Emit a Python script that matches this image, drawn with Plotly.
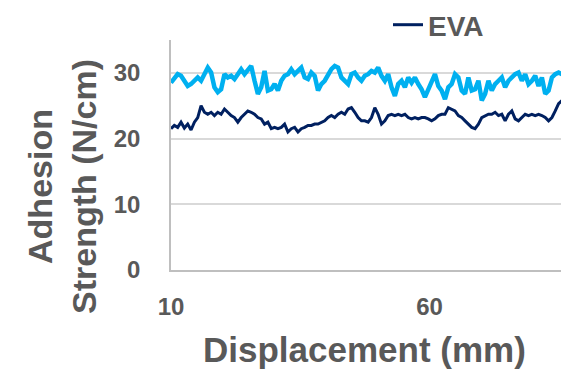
import plotly.graph_objects as go

# Adhesion strength (N/cm) sampled along displacement, step ~0.646 mm from 10 mm
eva = [21.5,22.0,21.7,22.5,21.6,22.2,21.3,22.5,23.2,25.0,
       24.0,23.7,24.0,23.5,24.0,23.7,24.5,24.0,23.5,23.2,
       22.5,23.2,23.7,24.2,24.0,23.7,23.2,23.0,22.2,22.5,
       21.5,21.7,21.5,21.7,22.2,21.0,21.5,21.7,21.0,21.5,
       21.7,22.0,22.0,22.2,22.2,22.5,22.7,23.2,23.5,23.2,
       23.7,24.0,23.7,24.5,24.7,24.0,23.2,22.7,22.7,22.5,
       23.2,24.7,23.7,22.2,22.7,23.5,23.7,23.5,23.7,23.5,
       23.7,23.2,23.0,23.2,23.0,23.2,23.2,23.0,22.7,23.0,
       23.5,23.7,23.7,24.7,24.5,24.2,23.5,23.2,22.7,22.2,
       21.7,21.5,22.2,23.2,23.5,23.7,23.7,24.0,23.5,23.7,
       22.7,23.7,24.2,23.0,22.7,23.2,23.7,23.5,23.7,23.5,
       23.7,23.5,23.2,22.7,23.2,24.2,25.3,25.8]

other = [28.5,29.3,29.8,29.55,28.8,28.0,28.3,28.8,29.3,28.8,
         29.8,30.8,30.05,27.8,27.05,27.5,29.8,29.3,29.55,29.05,
         29.8,30.56,29.8,30.56,31.06,28.8,26.8,27.8,30.3,27.3,
         27.5,28.3,27.3,28.8,29.55,29.8,30.56,29.8,30.3,30.8,
         29.3,29.05,30.05,29.55,27.3,28.3,28.8,29.8,30.56,31.06,
         30.8,29.3,28.8,28.3,29.8,30.05,29.3,28.8,29.55,29.8,
         30.3,30.05,30.8,29.55,28.8,29.8,27.8,26.5,28.3,28.8,
         27.8,29.3,28.5,29.3,28.3,27.5,26.3,27.5,28.8,29.8,
         28.0,27.3,26.0,27.8,28.3,29.8,29.3,27.3,26.8,29.3,
         27.3,27.5,28.8,25.8,26.8,28.8,27.3,28.3,28.8,29.3,
         27.8,28.8,29.3,29.8,30.05,28.8,29.8,28.3,28.8,29.55,
         28.0,29.3,26.8,27.3,29.3,29.8,30.05,29.8]

x_start = 10.0
x_step = 0.646
displacement = [round(x_start + x_step * i, 3) for i in range(len(eva))]

x_ticks = [10, 60]
y_ticks = [0, 10, 20, 30]

GRAY = "#595959"
FONT = "Liberation Sans"

W, H = 561, 371
L, R, T, B = 171, 0, 40, 101
PW, PH = W - L - R, H - T - B

fig = go.Figure()
fig.add_trace(go.Scatter(x=displacement, y=other, mode="lines", name="Other",
                         line=dict(color="#00B0F0", width=4.5), showlegend=False))
fig.add_trace(go.Scatter(x=displacement, y=eva, mode="lines", name="EVA",
                         line=dict(color="#002060", width=3)))

fig.update_layout(
    width=W, height=H,
    margin=dict(l=L, r=R, t=T, b=B, autoexpand=False),
    paper_bgcolor="white", plot_bgcolor="white",
    font=dict(family=FONT, color=GRAY),
    legend=dict(orientation="h", x=(388 - L) / PW, y=1 + (T - 25) / PH,
                xanchor="left", yanchor="middle",
                font=dict(size=28, family=FONT, color=GRAY, weight="bold"),
                bgcolor="rgba(0,0,0,0)"),
    xaxis=dict(range=[10, 85.4], tickvals=x_ticks, ticktext=[str(v) for v in x_ticks],
               showgrid=False, showline=True, linecolor="#BFBFBF", linewidth=1.5,
               zeroline=False, ticks="", ticklabelstandoff=14, automargin=False,
               tickfont=dict(size=24, family=FONT, color=GRAY, weight="bold")),
    yaxis=dict(range=[0, 35], tickvals=y_ticks,
               showgrid=True, gridcolor="#D9D9D9", gridwidth=1.5,
               showline=True, linecolor="#BFBFBF", linewidth=1.5,
               zeroline=False, ticks="", ticklabelstandoff=24, automargin=False,
               tickfont=dict(size=24, family=FONT, color=GRAY, weight="bold")),
    annotations=[
        dict(text="Displacement (mm)", xref="paper", yref="paper",
             x=(364 - L) / PW, y=-(349 - (T + PH)) / PH,
             xanchor="center", yanchor="middle", showarrow=False,
             font=dict(size=35, family=FONT, color=GRAY, weight="bold")),
        dict(text="Adhesion<br>Strength (N/cm)", xref="paper", yref="paper",
             x=-(L - 62) / PW, y=1 - (187 - T) / PH,
             xanchor="center", yanchor="middle", showarrow=False, textangle=-90,
             font=dict(size=34, family=FONT, color=GRAY, weight="bold")),
    ],
)

fig.write_html("out.html", config={"displayModeBar": False},
               post_script="document.body.style.margin='0';document.body.style.overflow='hidden';")
